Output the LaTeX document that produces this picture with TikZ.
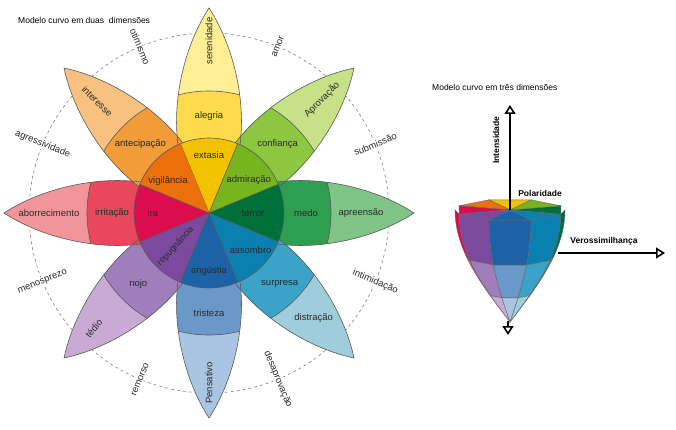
\documentclass[tikz,border=0pt]{standalone}
\usepackage{fontspec}
\setmainfont{Liberation Sans}
\usetikzlibrary{arrows.meta,calc}
\definecolor{ye1}{HTML}{F2C200}\definecolor{ye2}{HTML}{FDDB4C}\definecolor{ye3}{HTML}{FEEE94}
\definecolor{lg1}{HTML}{76B51F}\definecolor{lg2}{HTML}{8DC640}\definecolor{lg3}{HTML}{C7E286}
\definecolor{dg1}{HTML}{00703A}\definecolor{dg2}{HTML}{2E9E50}\definecolor{dg3}{HTML}{80C487}
\definecolor{te1}{HTML}{0A80B0}\definecolor{te2}{HTML}{3BA3C8}\definecolor{te3}{HTML}{A0CDDC}
\definecolor{bl1}{HTML}{1D62A6}\definecolor{bl2}{HTML}{6A98C9}\definecolor{bl3}{HTML}{AAC5E1}
\definecolor{pu1}{HTML}{7B4A9E}\definecolor{pu2}{HTML}{A07EBB}\definecolor{pu3}{HTML}{C9AAD5}
\definecolor{re1}{HTML}{DC0D4F}\definecolor{re2}{HTML}{E8475E}\definecolor{re3}{HTML}{F2959B}
\definecolor{or1}{HTML}{EB6F0A}\definecolor{or2}{HTML}{F39C3A}\definecolor{or3}{HTML}{F9C17F}
\definecolor{txt}{HTML}{2A2A2A}
\begin{document}
\begin{tikzpicture}[x=1pt,y=1pt,
  leaf/.style={insert path={(0,0) .. controls (50,50) and (150,36) .. (205,0) .. controls (150,-36) and (50,-50) .. (0,0) -- cycle}},
  ol/.style={draw=black!65,line width=0.6pt},
  lab/.style={font=\fontsize{9.5}{11}\selectfont,text=txt,inner sep=1pt},
  dy/.style={lab,fill=white},
  ax/.style={line width=1.6pt,black},
  tri/.style={-{Triangle[open,length=9pt,width=11pt]}},
  axl/.style={font=\fontsize{8.5}{10}\selectfont\bfseries},
  tt/.style={font=\fontsize{8.5}{10}\selectfont,anchor=west,inner sep=0pt},
  cl/.style={draw=black!60,line width=0.4pt}]
\useasboundingbox (0,0) rectangle (676,429);
\coordinate (C) at (209,216);
\node[tt] (t1) at (18,409) {Modelo curvo em duas\ \ dimensões};
\draw[gray,dashed,line width=0.6pt] (C) circle (180);
% dyads
\node[dy,rotate=-67.5] (d1) at ($(C)+(112.5:180)$) {otimismo};
\node[dy,rotate=67.5] (d2) at ($(C)+(67.5:180)$) {amor};
\node[dy,rotate=22.5] (d3) at ($(C)+(22.5:180)$) {submissão};
\node[dy,rotate=-22.5] (d4) at ($(C)+(-22.5:180)$) {intimidação};
\node[dy,rotate=-67.5] (d5) at ($(C)+(-67.5:180)$) {desaprovação};
\node[dy,rotate=67.5] (d6) at ($(C)+(247.5:180)$) {remorso};
\node[dy,rotate=22.5] (d7) at ($(C)+(202.5:180)$) {menosprezo};
\node[dy,rotate=-22.5] (d8) at ($(C)+(157.5:180)$) {agressividade};
% petals
\foreach \a/\ci/\cm/\co in {90/ye1/ye2/ye3,45/lg1/lg2/lg3,0/dg1/dg2/dg3,-45/te1/te2/te3,-90/bl1/bl2/bl3,-135/pu1/pu2/pu3,180/re1/re2/re3,135/or1/or2/or3}{
  \begin{scope}[shift={(C)},rotate=\a]
    \fill[\co,leaf];
    \begin{scope}\clip (0,0) circle (122); \fill[\cm,leaf]; \end{scope}
  \end{scope}}
\foreach \a/\ci in {90/ye1,45/lg1,0/dg1,-45/te1,-90/bl1,-135/pu1,180/re1,135/or1}{
  \begin{scope}[shift={(C)},rotate=\a]
    \fill[\ci] (0,0) -- (-22.5:75) arc (-22.5:22.5:75) -- cycle;
    \draw[ol] (0,0) -- (22.5:75);
    \begin{scope}[even odd rule]\clip (-250,-250) rectangle (250,250) (0,0) circle (75); \draw[ol,leaf]; \end{scope}
    \begin{scope}\clip (0,0) .. controls (50,50) and (150,36) .. (205,0) .. controls (150,-36) and (50,-50) .. (0,0) -- cycle; \draw[ol] (0,0) circle (122); \end{scope}
    \draw[ol] (-22.5:75) arc (-22.5:22.5:75);
  \end{scope}}
% inner labels
\node[lab] (i1) at ($(C)+(90:58)$) {extasia};
\node[lab] (i2) at ($(C)+(40:52)$) {admiração};
\node[lab] (i3) at ($(C)+(0:44)$) {terror};
\node[lab] (i4) at ($(C)+(-42:56)$) {assombro};
\node[lab] (i5) at ($(C)+(-90:58)$) {angústia};
\node[lab,rotate=48,font=\fontsize{9}{10}\selectfont] (i6) at ($(C)+(-135:47)$) {repugnância};
\node[lab] (i7) at ($(C)+(180:56)$) {ira};
\node[lab] (i8) at ($(C)+(142:52)$) {vigilância};
% middle labels
\node[lab] (m1) at ($(C)+(90:97)$) {alegria};
\node[lab] (m2) at ($(C)+(45:97)$) {confiança};
\node[lab] (m3) at ($(C)+(0:97)$) {medo};
\node[lab] (m4) at ($(C)+(-45:100)$) {surpresa};
\node[lab] (m5) at ($(C)+(-90:100)$) {tristeza};
\node[lab] (m6) at ($(C)+(-135:100)$) {nojo};
\node[lab] (m7) at ($(C)+(180:97)$) {irritação};
\node[lab] (m8) at ($(C)+(135:97)$) {antecipação};
% outer labels
\node[lab,rotate=90] (o1) at ($(C)+(90:172)$) {serenidade};
\node[lab,rotate=45] (o2) at ($(C)+(45:160)$) {Aprovação};
\node[lab] (o3) at ($(C)+(0:152)$) {apreensão};
\node[lab] (o4) at ($(C)+(-45:148)$) {distração};
\node[lab,rotate=90] (o5) at ($(C)+(-90:170)$) {Pensativo};
\node[lab,rotate=50] (o6) at ($(C)+(-135:163)$) {tédio};
\node[lab] (o7) at ($(C)+(180:160)$) {aborrecimento};
\node[lab,rotate=-45] (o8) at ($(C)+(135:158)$) {interesse};
% ---- 3D model
\node[tt] (t2) at (432,342) {Modelo curvo em três dimensões};
\foreach \pa/\pb/\ci/\cm/\co in {180/202.5/re1/re2/re3,202.5/247.5/pu1/pu2/pu3,247.5/292.5/bl1/bl2/bl3,292.5/337.5/te1/te2/te3,337.5/360/dg1/dg2/dg3}{
  \foreach \sa/\sb/\cc in {0/0.42/\ci,0.42/0.75/\cm,0.75/1/\co}{
    \filldraw[fill=\cc,cl] plot[domain=\pa:\pb,samples=2] ({510+55*cos(90*\sa)*cos(\x)},{219-112*\sa+11*cos(90*\sa)*sin(\x)})
      -- plot[domain=\sa:\sb,samples=10] ({510+55*cos(90*\x)*cos(\pb)},{219-112*\x+11*cos(90*\x)*sin(\pb)})
      -- plot[domain=\pb:\pa,samples=2] ({510+55*cos(90*\sb)*cos(\x)},{219-112*\sb+11*cos(90*\sb)*sin(\x)})
      -- plot[domain=\sb:\sa,samples=10] ({510+55*cos(90*\x)*cos(\pa)},{219-112*\x+11*cos(90*\x)*sin(\pa)}) -- cycle;
  }}
\foreach \pa/\pb/\cc in {-22.5/22.5/dg1,22.5/67.5/lg1,67.5/112.5/ye1,112.5/157.5/or1,157.5/202.5/re1,202.5/247.5/pu1,247.5/292.5/bl1,292.5/337.5/te1}{
  \filldraw[fill=\cc,cl] (510,219) -- ({510+55*cos(\pa)},{219+11*sin(\pa)}) -- ({510+55*cos(\pb)},{219+11*sin(\pb)}) -- cycle;}
\coordinate (topc) at (510,219);
\coordinate (ztop) at (510,324);
\coordinate (tip) at (508,108);
\coordinate (zbot) at (508,94);
\coordinate (hl) at (558,176);
\coordinate (hr) at (665,176);
\draw[ax,tri] (topc) -- (ztop);
\draw[ax,tri] (tip) -- (zbot);
\draw[ax,tri] (hl) -- (hr);
\node[axl,rotate=90] (l1) at (496,289) {Intensidade};
\node[axl] (l2) at (540,236) {Polaridade};
\node[axl] (l3) at (604,188) {Verossimilhança};
\end{tikzpicture}
\end{document}
